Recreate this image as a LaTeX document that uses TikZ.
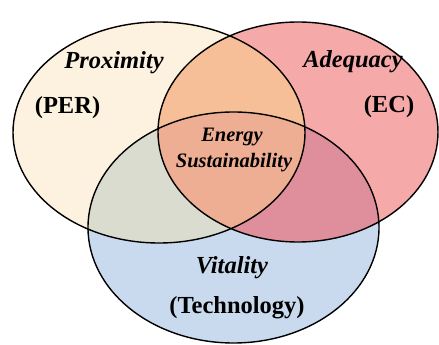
\documentclass[tikz,border=0pt]{standalone}
\usepackage{fontspec}
\setmainfont{Liberation Serif}
\definecolor{cream}{HTML}{FDF1DF}
\definecolor{pinkc}{HTML}{F5A9A8}
\definecolor{bluec}{HTML}{C9D9EE}
\definecolor{lrc}{HTML}{F7BF98}
\definecolor{lbc}{HTML}{D9DCCF}
\definecolor{rbc}{HTML}{DF8E9C}
\definecolor{cenc}{HTML}{EEAE93}
\begin{document}
\begin{tikzpicture}[x=1pt,y=1pt,
  outline/.style={draw=black,line width=1.4pt},
  biglab/.style={font=\fontsize{24.5}{28}\selectfont\bfseries\itshape},
  bigup/.style={font=\fontsize{24.5}{28}\selectfont\bfseries},
  cenlab/.style={font=\fontsize{20.5}{24}\selectfont\bfseries\itshape}]
\useasboundingbox (0,0) rectangle (439,345);
\def\ellL{(159,212.5) ellipse [x radius=146, y radius=110.5]}
\def\ellR{(298,213) ellipse [x radius=140, y radius=110]}
\def\ellB{(233.5,117.5) ellipse [x radius=145.5, y radius=115.5]}
\fill[cream] \ellL;
\fill[pinkc] \ellR;
\fill[bluec] \ellB;
\begin{scope}\clip \ellL; \fill[lrc] \ellR; \fill[lbc] \ellB; \end{scope}
\begin{scope}\clip \ellR; \fill[rbc] \ellB; \end{scope}
\begin{scope}\clip \ellL; \clip \ellR; \fill[cenc] \ellB; \end{scope}
\draw[outline] \ellL;
\draw[outline] \ellR;
\draw[outline] \ellB;
\node[biglab] (prox) at (114,282) {Proximity};
\node[bigup] (per) at (67.5,237) {(PER)};
\node[biglab] (adeq) at (353,283) {Adequacy};
\node[bigup] (ec) at (389,238) {(EC)};
\node[cenlab] (en) at (232,208) {Energy};
\node[cenlab] (sus) at (234,182) {Sustainability};
\node[biglab] (vit) at (232,77) {Vitality};
\node[bigup] (tech) at (237,37) {(Technology)};
\end{tikzpicture}
\end{document}
